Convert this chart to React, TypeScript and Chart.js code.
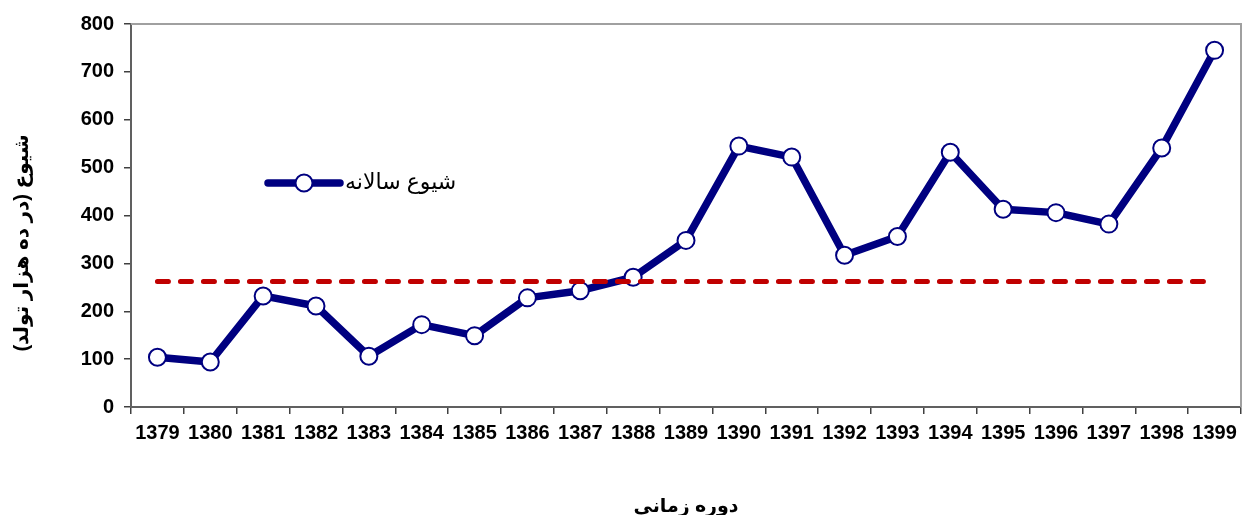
import React, { useEffect, useRef } from "react";
import { Chart, registerables } from "chart.js";

Chart.register(...registerables);

const years = ["1379","1380","1381","1382","1383","1384","1385","1386","1387","1388","1389","1390","1391","1392","1393","1394","1395","1396","1397","1398","1399"];
const annualPrevalence = [104, 94, 232, 211, 106, 172, 149, 228, 243, 271, 348, 545, 522, 317, 356, 532, 413, 406, 382, 541, 745];
const averageValue = 262;
const averageLine = years.map(() => averageValue);
const seriesLabel = "شیوع سالانه";
const yTitle = "شیوع (در ده هزار تولد)\u200F";
const xTitle = "دوره زمانی";
const yTicks = [0, 100, 200, 300, 400, 500, 600, 700, 800];

const FONT = '"Liberation Sans", Arial, "DejaVu Sans", sans-serif';
const NAVY = "#000080";
const RED = "#C00000";

const framePlugin = {
  id: "frame",
  afterDraw(chart: any) {
    const { ctx, chartArea } = chart;
    const { left, right, top, bottom } = chartArea;
    ctx.save();
    ctx.strokeStyle = "#a0a0a0";
    ctx.lineWidth = 2;
    ctx.beginPath();
    ctx.moveTo(left, top);
    ctx.lineTo(right, top);
    ctx.lineTo(right, bottom);
    ctx.stroke();

    // y axis title
    ctx.translate(22, 243);
    ctx.rotate(-Math.PI / 2);
    ctx.direction = "rtl";
    ctx.font = `bold 20px ${FONT}`;
    ctx.fillStyle = "#000";
    ctx.textAlign = "center";
    ctx.textBaseline = "middle";
    ctx.fillText(yTitle, 0, 0);
    ctx.restore();

    // legend
    const ds = chart.data.datasets[1];
    const lx = left + 137;
    const ly = top + 159;
    ctx.save();
    ctx.strokeStyle = ds.borderColor;
    ctx.lineWidth = ds.borderWidth;
    ctx.lineCap = "round";
    ctx.beginPath();
    ctx.moveTo(lx, ly);
    ctx.lineTo(lx + 72, ly);
    ctx.stroke();
    ctx.beginPath();
    ctx.arc(lx + 36, ly, ds.pointRadius, 0, Math.PI * 2);
    ctx.fillStyle = ds.pointBackgroundColor;
    ctx.fill();
    ctx.lineWidth = ds.pointBorderWidth;
    ctx.strokeStyle = ds.pointBorderColor;
    ctx.stroke();
    ctx.font = `22px ${FONT}`;
    ctx.fillStyle = "#000";
    ctx.textAlign = "left";
    ctx.textBaseline = "middle";
    ctx.fillText(ds.label, lx + 77, ly);
    ctx.restore();
  },
};

export default function App() {
  const ref = useRef<HTMLCanvasElement>(null);
  useEffect(() => {
    if (!ref.current) return;
    const chart = new Chart(ref.current, {
      type: "line",
      data: {
        labels: years,
        datasets: [
          {
            label: "average",
            data: averageLine,
            borderColor: RED,
            borderWidth: 5,
            borderDash: [11, 12],
            borderCapStyle: "round",
            pointRadius: 0,
            pointHoverRadius: 0,
            fill: false,
            order: 0,
          },
          {
            label: seriesLabel,
            data: annualPrevalence,
            borderColor: NAVY,
            borderWidth: 7.5,
            borderJoinStyle: "round",
            pointRadius: 8.5,
            pointHoverRadius: 8.5,
            pointBackgroundColor: "#ffffff",
            pointBorderColor: NAVY,
            pointBorderWidth: 2,
            fill: false,
            order: 1,
          },
        ],
      },
      options: {
        animation: false,
        responsive: true,
        maintainAspectRatio: false,
        layout: { autoPadding: false, padding: { top: 24, right: 2, left: 0, bottom: 0 } },
        plugins: {
          legend: { display: false },
          tooltip: { enabled: false },
        },
        scales: {
          x: {
            type: "category",
            offset: true,
            grid: {
              drawOnChartArea: false,
              drawTicks: true,
              tickLength: 7,
              color: "#404040",
              lineWidth: 1.5,
              offset: true,
            },
            border: { display: true, color: "#606060", width: 2 },
            ticks: {
              font: { family: FONT, size: 20, weight: "bold" },
              color: "#000",
              padding: 7,
              maxRotation: 0,
              autoSkip: false,
            },
            title: {
              display: true,
              text: xTitle,
              font: { family: FONT, size: 19, weight: "bold" },
              color: "#000",
              padding: { top: 0, bottom: -3 },
            },
            afterFit: (scale: any) => {
              scale.height = 108;
              scale.paddingLeft = 0;
              scale.paddingRight = 0;
            },
          },
          y: {
            min: 0,
            max: 800,
            afterBuildTicks: (scale: any) => {
              scale.ticks = yTicks.map((v) => ({ value: v }));
            },
            grid: {
              drawOnChartArea: false,
              drawTicks: true,
              tickLength: 7,
              color: "#404040",
              lineWidth: 1.5,
            },
            border: { display: true, color: "#606060", width: 2 },
            ticks: {
              font: { family: FONT, size: 20, weight: "bold" },
              color: "#000",
              padding: 10,
            },
            afterFit: (scale: any) => {
              scale.width = 131;
              scale.paddingTop = 0;
              scale.paddingBottom = 0;
            },
          },
        },
      },
      plugins: [framePlugin],
    });
    return () => chart.destroy();
  }, []);
  return (
    <div style={{ position: "absolute", left: 0, top: 0, width: 1243, height: 515 }}>
      <canvas ref={ref} />
    </div>
  );
}
